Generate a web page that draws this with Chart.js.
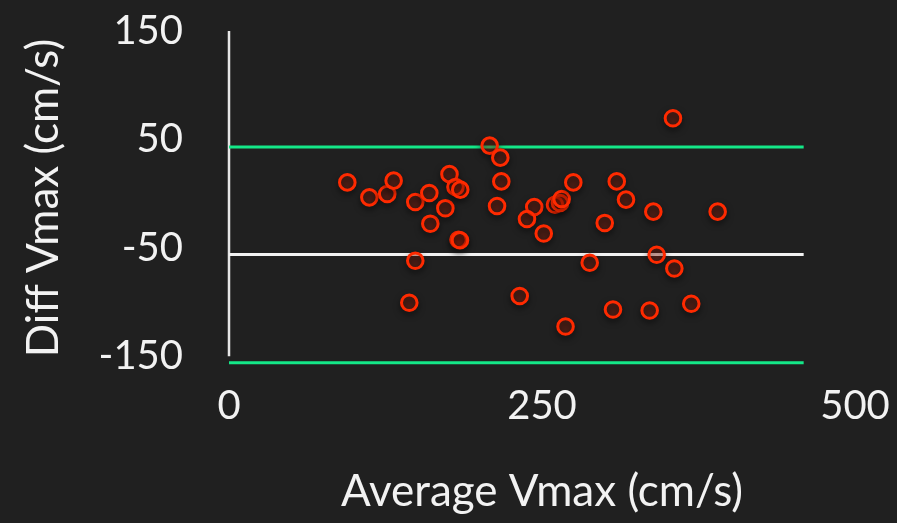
<!DOCTYPE html>
<html>
<head>
<meta charset="utf-8">
<script src="https://cdn.jsdelivr.net/npm/chart.js@4.4.0/dist/chart.umd.min.js"></script>
<style>
  html, body { margin: 0; padding: 0; background: #202020; }
</style>
</head>
<body>
<canvas id="blandAltman" width="897" height="523"></canvas>
<script>
// mean of the two measurements vs their difference
const averageVmax = [94.5, 112.1, 126.4, 131.5, 148.8, 160, 160.8, 172.8, 176.1, 180.9, 184.7, 183.3, 184.5,
    148.8, 144, 208.2, 216.7, 217.5, 214.1, 232.2, 243.8, 238, 251.4, 260.4, 264.4, 265.7, 268.8,
    275, 309.7, 317.1, 300.1, 338.9, 390.3, 354.6, 288.1, 341.6, 355.7, 306.7, 336, 369.2]
const diffVmax = [10.4, -3.4, -0.3, 12, -7.7, 0.6, -27.7, -13.4, 18, 6.2, 3.7, -42.5, -43,
    -61.9, -100.6, 44.3, 33.2, 11.3, -11.4, -94.4, -12.3, -23.4, -36.7, -10.2, -8.6, -4.9, -122.5,
    10.4, 11.3, -5.5, -27, -16.6, -16.6, 69.5, -63.7, -56.3, -69, -106.8, -107.7, -101.5]

const meanDiff = -56
const upperLimit = 43
const lowerLimit = -156
const lineEnd = 459

const xTicks = [0, 250, 500]
const yTicks = [150, 50, -50, -150]

const points = averageVmax.map((x, i) => ({ x, y: diffVmax[i] }))
const hLine = y => [{ x: 0, y }, { x: lineEnd, y }]

// soft drop shadow under the markers only
const pointShadow = {
    id: 'pointShadow',
    beforeDatasetDraw(chart, args) {
        if (args.index !== 0) return
        const ctx = chart.ctx
        ctx.save()
        ctx.shadowColor = 'rgba(0, 0, 0, 0.6)'
        ctx.shadowBlur = 6
        ctx.shadowOffsetY = 3
    },
    afterDatasetDraw(chart, args) {
        if (args.index === 0) chart.ctx.restore()
    }
}

const lineStyle = (color) => ({
    showLine: true,
    borderColor: color,
    borderWidth: 3,
    pointRadius: 0,
    clip: false,
    order: 1
})

const data = {
    datasets: [{
        data: points,
        pointRadius: 7.8,
        borderWidth: 3,
        borderColor: '#ff2a00',
        backgroundColor: 'rgba(255, 40, 0, 0.22)',
        clip: false,
        order: 0
    },
    { data: hLine(upperLimit), ...lineStyle('#14e888') },
    { data: hLine(meanDiff), ...lineStyle('#f2f2f2') },
    { data: hLine(lowerLimit), ...lineStyle('#14e888') },
    { data: [{ x: 0, y: yTicks[0] }, { x: 0, y: yTicks[yTicks.length - 1] }], ...lineStyle('#e6e6e6'), borderWidth: 2.5 }]
}

const tickFont = { family: 'Lato', size: 40 }
const titleFont = { family: 'Lato', size: 44 }

const options = {
    responsive: false,
    animation: false,
    layout: { padding: { top: 31, right: 42, bottom: 0, left: 0 } },
    plugins: {
        legend: { display: false },
        tooltip: { enabled: false }
    },
    scales: {
        x: {
            type: 'linear',
            min: 0,
            max: 500,
            afterBuildTicks: axis => { axis.ticks = xTicks.map(value => ({ value })) },
            afterFit: axis => {
                // fixed band height, and let the layout padding alone set the plot edges
                axis.height = 158
                axis.paddingLeft = 0
                axis.paddingRight = 0
            },
            grid: { display: false, drawTicks: false },
            border: { display: false },
            ticks: { color: '#f2f2f2', font: tickFont, padding: 17, maxRotation: 0 },
            title: { display: true, text: 'Average Vmax (cm/s)', color: '#f2f2f2', font: titleFont, padding: { top: 0, bottom: 5 } }
        },
        y: {
            min: -158,
            max: 150,
            afterBuildTicks: axis => { axis.ticks = yTicks.map(value => ({ value })) },
            afterFit: axis => {
                axis.width = 229
                axis.paddingTop = 0
                axis.paddingBottom = 0
            },
            grid: { display: false, drawTicks: false },
            border: { display: false },
            ticks: { color: '#f2f2f2', font: tickFont, padding: 46 },
            title: { display: true, text: 'Diff Vmax (cm/s)', color: '#f2f2f2', font: titleFont, padding: { top: 17, bottom: 0 } }
        }
    }
}

new Chart('blandAltman', { type: 'scatter', data, options, plugins: [pointShadow] })
</script>
</body>
</html>
